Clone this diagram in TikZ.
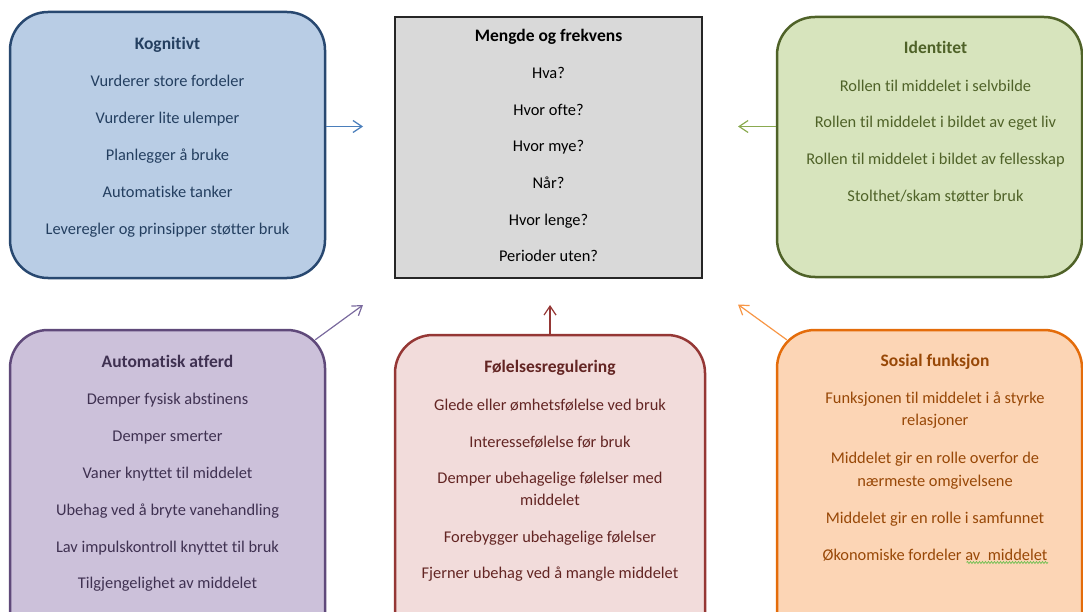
\documentclass[tikz,border=0pt]{standalone}
\usepackage{fontspec}
\setmainfont{Carlito}[Ligatures={NoCommon}]
\usetikzlibrary{arrows.meta,decorations.pathmorphing,calc}
\definecolor{kogF}{HTML}{B9CDE5}\definecolor{kogB}{HTML}{284870}\definecolor{kogT}{HTML}{243F60}\definecolor{kogA}{HTML}{4A7EBB}
\definecolor{menF}{HTML}{D9D9D9}\definecolor{menB}{HTML}{262626}
\definecolor{ideF}{HTML}{D7E4BD}\definecolor{ideB}{HTML}{4F6228}\definecolor{ideT}{HTML}{4F6228}\definecolor{ideA}{HTML}{8AAA50}
\definecolor{autF}{HTML}{CCC1DA}\definecolor{autB}{HTML}{5F497A}\definecolor{autT}{HTML}{3F3151}\definecolor{autA}{HTML}{7A6A9E}
\definecolor{folF}{HTML}{F2DCDB}\definecolor{folB}{HTML}{953735}\definecolor{folT}{HTML}{632523}\definecolor{folA}{HTML}{953735}
\definecolor{sosF}{HTML}{FCD5B5}\definecolor{sosB}{HTML}{E46C0A}\definecolor{sosT}{HTML}{984807}\definecolor{sosA}{HTML}{F79646}
\definecolor{squig}{HTML}{6BBF4E}
\begin{document}
\begin{tikzpicture}[x=1pt,y=-1pt,
  roundbox/.style={draw, line width=2.5pt, rounded corners=38pt, inner sep=0pt},
  txt/.style={anchor=mid, inner sep=0pt, yshift=-2.5pt, font=\fontsize{16.4}{19}\selectfont},
  ttl/.style={txt, font=\fontsize{17.5}{20}\selectfont\bfseries},
  arr/.style={line width=1.2pt, -{Straight Barb[length=9pt,width=12pt,line width=1.2pt]}}]
\useasboundingbox (0,0) rectangle (1083,612);
\clip (0,0) rectangle (1083,612);
% boxes
\node[roundbox, draw=kogB, fill=kogF, minimum width=315pt, minimum height=266pt] (kog) at (167.5,145) {};
\node[draw=menB, line width=2pt, fill=menF, inner sep=0pt, minimum width=307pt, minimum height=261pt] (men) at (548.5,147.5) {};
\node[roundbox, draw=ideB, fill=ideF, minimum width=305pt, minimum height=260pt] (ide) at (929.5,147) {};
\node[roundbox, draw=autB, fill=autF, minimum width=315pt, minimum height=320pt] (aut) at (167.5,490) {};
\node[roundbox, draw=folB, fill=folF, minimum width=310pt, minimum height=320pt] (fol) at (550,495) {};
\node[roundbox, draw=sosB, fill=sosF, minimum width=305pt, minimum height=320pt] (sos) at (929.5,490) {};
% texts
\node[ttl, text=kogT] (kog-t) at (167.5,45) {Kognitivt};
\foreach \y/\t [count=\i] in {82/Vurderer store fordeler, 118.5/Vurderer lite ulemper, 155.5/Planlegger å bruke, 192.5/Automatiske tanker, 229.5/Leveregler og prinsipper støtter bruk}
  \node[txt, text=kogT] (kog-\i) at (167.5,\y) {\t};
\node[ttl, text=black] (men-t) at (548.5,36.5) {Mengde og frekvens};
\foreach \y/\t [count=\i] in {73.5/Hva?, 110.5/Hvor ofte?, 147/Hvor mye?, 183.5/Når?, 220.5/Hvor lenge?, 256.5/Perioder uten?}
  \node[txt, text=black] (men-\i) at (548.5,\y) {\t};
\node[ttl, text=ideT] (ide-t) at (935.5,49) {Identitet};
\foreach \y/\t [count=\i] in {86.5/Rollen til middelet i selvbilde, 123/Rollen til middelet i bildet av eget liv, 160/Rollen til middelet i bildet av fellesskap, 197/{Stolthet/skam støtter bruk}}
  \node[txt, text=ideT] (ide-\i) at (935.5,\y) {\t};
\node[ttl, text=autT] (aut-t) at (167.5,363) {Automatisk atferd};
\foreach \y/\t [count=\i] in {400/Demper fysisk abstinens, 437/Demper smerter, 474/Vaner knyttet til middelet, 511/Ubehag ved å bryte vanehandling, 548/Lav impulskontroll knyttet til bruk, 583.5/Tilgjengelighet av middelet}
  \node[txt, text=autT] (aut-\i) at (167.5,\y) {\t};
\node[ttl, text=folT] (fol-t) at (550,368) {Følelsesregulering};
\foreach \y/\t [count=\i] in {405.5/Glede eller ømhetsfølelse ved bruk, 442.5/Interessefølelse før bruk, 478.5/Demper ubehagelige følelser med, 500.5/middelet, 538/Forebygger ubehagelige følelser, 574/Fjerner ubehag ved å mangle middelet}
  \node[txt, text=folT] (fol-\i) at (550,\y) {\t};
\node[ttl, text=sosT] (sos-t) at (935,362) {Sosial funksjon};
\foreach \y/\t [count=\i] in {399/Funksjonen til middelet i å styrke, 421/relasjoner, 459/Middelet gir en rolle overfor de, 481.5/nærmeste omgivelsene, 518.5/Middelet gir en rolle i samfunnet}
  \node[txt, text=sosT] (sos-\i) at (935,\y) {\t};
\node[txt, text=sosT] (sos-6) at (935,556) {Økonomiske fordeler av\ \ middelet};
\draw[squig, line width=0.7pt, decorate, decoration={snake, amplitude=1pt, segment length=3pt}] (966.5,562.5) -- (1048,562.5);
% arrows
\coordinate (kogTip) at (363,126.5);
\coordinate (ideTip) at (738,126.5);
\coordinate (autTip) at (363,305);
\coordinate (folTip) at (550,305);
\coordinate (sosTip) at (738,304.5);
\coordinate (autS) at ($(aut.north east)+(-11.1,11.1)$);
\coordinate (sosS) at ($(sos.north west)+(11.1,11.1)$);
\draw[arr, kogA] (kog.east |- kogTip) -- (kogTip);
\draw[arr, ideA] (ide.west |- ideTip) -- (ideTip);
\draw[arr, autA] (autS) -- (autTip);
\draw[arr, folA] (fol.north) -- (folTip);
\draw[arr, sosA] (sosS) -- (sosTip);
\end{tikzpicture}
\end{document}
